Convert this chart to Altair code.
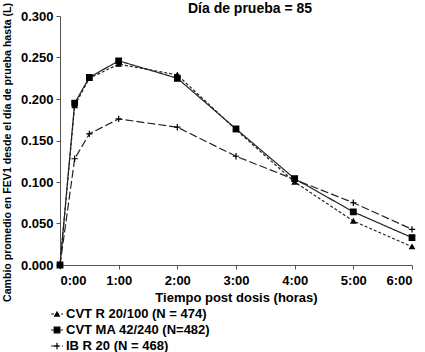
import altair as alt
import pandas as pd

title_text = "Día de prueba = 85"
time_h = [0, 0.25, 0.5, 1, 2, 3, 4, 5, 6]
series_names = ["CVT R 20/100 (N = 474)", "CVT MA 42/240 (N=482)", "IB R 20 (N = 468)"]
cvt_r = [0.0, 0.192, 0.225, 0.242, 0.229, 0.163, 0.100, 0.053, 0.022]
cvt_ma = [0.0, 0.195, 0.226, 0.246, 0.225, 0.164, 0.104, 0.064, 0.033]
ib_r = [0.0, 0.128, 0.158, 0.176, 0.166, 0.131, 0.103, 0.075, 0.043]
x_ticks = [0, 1, 2, 3, 4, 5, 6]
y_ticks = [0.0, 0.05, 0.1, 0.15, 0.2, 0.25, 0.3]

rows = []
for name, vals in zip(series_names, [cvt_r, cvt_ma, ib_r]):
    for t, v in zip(time_h, vals):
        rows.append({"t": t, "v": v, "s": name})
df = pd.DataFrame(rows)
leg_df = pd.DataFrame({"s": series_names, "row": list(range(len(series_names)))})
title_df = pd.DataFrame({"label": [title_text]})

FONT = "Liberation Sans"

x = alt.X("t:Q", scale=alt.Scale(domain=[0, 6], nice=False),
          axis=alt.Axis(values=x_ticks, labelExpr="datum.value + ':00'",
                        title="Tiempo post dosis (horas)", titleFontSize=13,
                        titleFontWeight="bold", labelFontSize=13, labelFontWeight="bold",
                        titlePadding=4, labelPadding=5, tickSize=4, titleX=176))
y_axis = alt.Axis(values=y_ticks, format=".3f",
                  title="Cambio promedio en FEV1 desde el día de prueba hasta (L)",
                  titleFontSize=10.6, titleFontWeight="bold", labelFontSize=13,
                  labelFontWeight="bold", tickSize=4, labelPadding=3,
                  titleX=-58, titleY=136, titleAlign="center", titleBaseline="top",
                  titleAngle=270)
y_scale = alt.Scale(domain=[0, 0.3], nice=False)

dash_scale = alt.Scale(domain=series_names, range=[[3, 2], [1, 0], [8, 3]])
shape_scale = alt.Scale(domain=series_names, range=["triangle-up", "square", "M-1,0H1M0,-1V1"])
size_scale = alt.Scale(domain=series_names, range=[22, 40, 70])

line = alt.Chart(df).mark_line(color="#222", strokeWidth=1.2).encode(
    x=x, y=alt.Y("v:Q", scale=y_scale, axis=y_axis),
    strokeDash=alt.StrokeDash("s:N", scale=dash_scale, legend=None),
    detail="s:N",
)
points = alt.Chart(df).mark_point(fill="black", stroke="black", strokeWidth=1.2, opacity=1).encode(
    x=x, y=alt.Y("v:Q", scale=y_scale, axis=None),
    shape=alt.Shape("s:N", scale=shape_scale, legend=None),
    size=alt.Size("s:N", scale=size_scale, legend=None),
)

# hand-made legend below the axis title
legend_y = alt.Y("row:O", scale=alt.Scale(type="point", domain=[0, 1, 2], range=[298, 330], padding=0),
                 axis=None)
leg_rule = alt.Chart(leg_df).mark_rule(color="#222", strokeWidth=1.2).encode(
    x=alt.value(-9), x2=alt.value(3), y=legend_y,
    strokeDash=alt.StrokeDash("s:N", scale=dash_scale, legend=None),
)
leg_pts = alt.Chart(leg_df).mark_point(fill="black", stroke="black", strokeWidth=1.2, opacity=1).encode(
    x=alt.value(-3), y=legend_y,
    shape=alt.Shape("s:N", scale=shape_scale, legend=None),
    size=alt.Size("s:N", scale=size_scale, legend=None),
)
leg_txt = alt.Chart(leg_df).mark_text(align="left", baseline="middle", font=FONT, fontSize=13,
                                      fontWeight="bold", color="black").encode(
    x=alt.value(6), y=legend_y, text="s:N",
)
title_mark = alt.Chart(title_df).mark_text(align="center", baseline="middle", font=FONT, fontSize=14,
                                           fontWeight="bold", color="black").encode(
    x=alt.value(190), y=alt.value(-7), text="label:N",
)

chart = alt.layer(line, points, leg_rule, leg_pts, leg_txt, title_mark).resolve_scale(y="independent").properties(
    width=352, height=249,
    autosize=alt.AutoSizeParams(type="none"),
    padding={"left": 60, "top": 16, "right": 13, "bottom": 87},
).configure_axis(
    grid=False, domainColor="#555", tickColor="#555", labelColor="black", titleColor="black",
    labelFont=FONT, titleFont=FONT,
).configure_view(stroke=None)

chart.save("out.html", embed_options={"renderer": "svg", "actions": False})
